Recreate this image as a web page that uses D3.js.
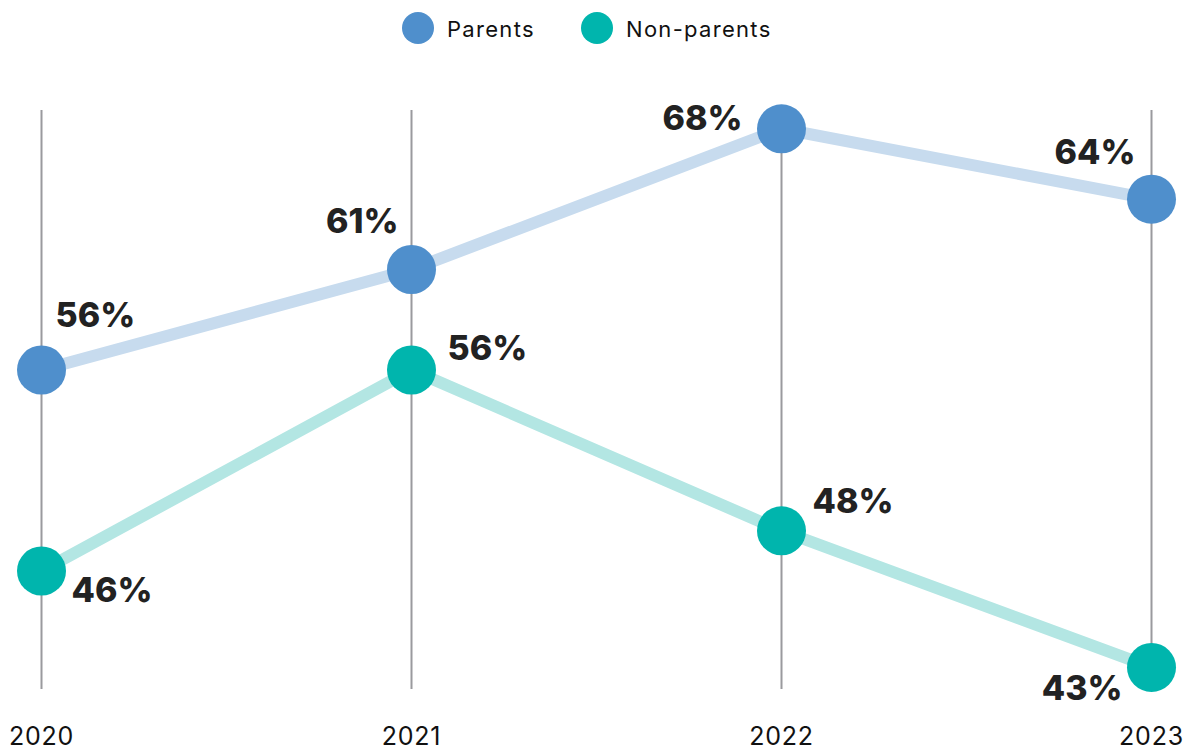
<!DOCTYPE html>
<html>
<head>
<meta charset="utf-8">
<script src="https://cdn.jsdelivr.net/npm/d3@7"></script>
<style>
  html, body { margin: 0; padding: 0; background: #fff; }
  svg { display: block; }
  text { font-family: Inter, "Noto Sans", sans-serif; }
</style>
</head>
<body>
<svg id="chart" width="1193" height="750"></svg>
<script>
const years = ["2020", "2021", "2022", "2023"];
const seriesNames = ["Parents", "Non-parents"];
// plotted positions and printed labels
const parentsValues = [56, 61, 68, 64.5];
const nonParentsValues = [46, 56, 48, 41.2];
const parentsLabels = ["56%", "61%", "68%", "64%"];
const nonParentsLabels = ["46%", "56%", "48%", "43%"];

const colors = { "Parents": "#4f8fcc", "Non-parents": "#00b5ad" };
const lineColors = { "Parents": "#c7dbee", "Non-parents": "#b3e6e3" };

const svg = d3.select("#chart");

const x = d3.scalePoint().domain(years).range([41.5, 1151.5]);
const y = d3.scaleLinear().domain([40, 70]).range([691.6, 88.6]);

// vertical grid lines
svg.append("g").selectAll("line").data(years).join("line")
  .attr("x1", d => x(d)).attr("x2", d => x(d))
  .attr("y1", 110).attr("y2", 689)
  .attr("stroke", "#9a9a9e").attr("stroke-width", 2);

// year labels
svg.append("g").selectAll("text").data(years).join("text")
  .attr("x", d => x(d)).attr("y", 745)
  .attr("text-anchor", "middle")
  .attr("font-size", 25).attr("letter-spacing", 0.8).attr("fill", "#111")
  .text(d => d);

const series = [
  { name: "Parents", values: parentsValues, labels: parentsLabels,
    offsets: [[14, -43, "start"], [-13, -37, "end"], [-39, 1, "end"], [-16, -35, "end"]] },
  { name: "Non-parents", values: nonParentsValues, labels: nonParentsLabels,
    offsets: [[30, 31, "start"], [36, -10, "start"], [31, -18, "start"], [-29, 33, "end"]] }
];

const line = d3.line().x((d, i) => x(years[i])).y(d => y(d));

series.forEach(s => {
  svg.append("path").datum(s.values)
    .attr("d", line)
    .attr("fill", "none")
    .attr("stroke", lineColors[s.name])
    .attr("stroke-width", 12);
});

series.forEach(s => {
  svg.append("g").selectAll("circle").data(s.values).join("circle")
    .attr("cx", (d, i) => x(years[i]))
    .attr("cy", d => y(d))
    .attr("r", 24.5)
    .attr("fill", colors[s.name]);
});

series.forEach(s => {
  svg.append("g").selectAll("text").data(s.values).join("text")
    .attr("x", (d, i) => x(years[i]) + s.offsets[i][0])
    .attr("y", (d, i) => y(d) + s.offsets[i][1])
    .attr("text-anchor", (d, i) => s.offsets[i][2])
    .attr("font-size", 34).attr("font-weight", 800)
    .attr("fill", "#222")
    .text((d, i) => s.labels[i]);
});

// legend
const legendX = [418, 597];
const lg = svg.append("g").selectAll("g").data(seriesNames).join("g")
  .attr("transform", (d, i) => `translate(${legendX[i]},28)`);
lg.append("circle").attr("r", 16).attr("fill", d => colors[d]);
lg.append("text").attr("x", 29).attr("y", 9)
  .attr("font-size", 22).attr("letter-spacing", 1.3).attr("fill", "#111")
  .text(d => d);
</script>
</body>
</html>
